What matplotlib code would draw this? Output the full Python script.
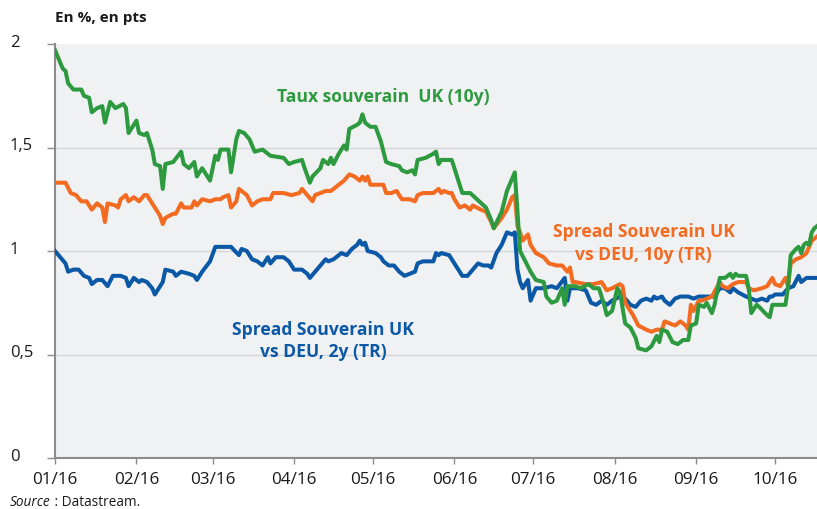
import numpy as np
import matplotlib
matplotlib.use("Agg")
import matplotlib.pyplot as plt

plt.rcParams['font.family'] = ['Open Sans', 'DejaVu Sans']

# jours depuis le 01/01/2016, valeurs en %
jours_taux = [0, 3, 4, 5, 7, 10, 11, 13, 14, 16, 18, 19, 21, 23, 26, 27, 28, 31, 32, 34,
              35, 37, 38, 40, 41, 42, 45, 48, 49, 51, 53, 54, 56, 59, 61, 62, 63, 66, 67, 69,
              70, 72, 74, 76, 79, 82, 87, 89, 91, 94, 95, 97, 98, 101, 102, 104, 105, 106, 108, 110,
              111, 112, 115, 116, 117, 118, 120, 122, 124, 126, 128, 131, 132, 134, 136, 137, 138, 141, 144, 145,
              146, 147, 151, 153, 155, 158, 164, 166, 167, 170, 172, 175, 176, 177, 179, 181, 183, 186, 187, 189,
              191, 193, 194, 195, 198, 200, 203, 205, 207, 209, 210, 212, 214, 215, 217, 219, 221, 222, 225, 227,
              229, 230, 231, 233, 235, 237, 239, 241, 242, 244, 245, 247, 248, 250, 251, 253, 255, 257, 258, 259,
              260, 263, 264, 265, 267, 268, 271, 272, 273, 274, 276, 278, 279, 280, 282, 283, 284, 285, 286, 287,
              288, 289, 290]
taux_uk_10y = [1.97, 1.88, 1.87, 1.81, 1.78, 1.78, 1.75, 1.74, 1.67, 1.69, 1.70, 1.62, 1.72, 1.69, 1.71, 1.69, 1.57, 1.63, 1.57, 1.56,
               1.57, 1.49, 1.42, 1.41, 1.30, 1.42, 1.43, 1.48, 1.42, 1.40, 1.43, 1.36, 1.40, 1.34, 1.46, 1.44, 1.49, 1.49, 1.38, 1.54,
               1.58, 1.57, 1.54, 1.48, 1.49, 1.46, 1.45, 1.42, 1.43, 1.44, 1.40, 1.33, 1.36, 1.40, 1.44, 1.42, 1.45, 1.42, 1.47, 1.51,
               1.49, 1.59, 1.61, 1.62, 1.66, 1.62, 1.60, 1.60, 1.53, 1.43, 1.42, 1.41, 1.39, 1.38, 1.39, 1.37, 1.44, 1.45, 1.47, 1.48,
               1.42, 1.44, 1.44, 1.36, 1.28, 1.28, 1.21, 1.15, 1.11, 1.19, 1.29, 1.38, 1.19, 1.00, 0.95, 0.90, 0.86, 0.85, 0.78, 0.75,
               0.76, 0.82, 0.74, 0.83, 0.83, 0.82, 0.84, 0.82, 0.82, 0.74, 0.69, 0.71, 0.82, 0.80, 0.65, 0.63, 0.58, 0.53, 0.52, 0.54,
               0.59, 0.56, 0.62, 0.61, 0.56, 0.55, 0.57, 0.57, 0.64, 0.65, 0.74, 0.73, 0.75, 0.70, 0.74, 0.87, 0.87, 0.89, 0.87, 0.89,
               0.88, 0.88, 0.82, 0.70, 0.74, 0.73, 0.69, 0.68, 0.74, 0.74, 0.74, 0.74, 0.83, 0.98, 1.01, 1.02, 0.99, 1.03, 1.04, 1.03,
               1.09, 1.11, 1.12]

jours_spread_10y = [0, 4, 6, 8, 10, 12, 13, 14, 16, 18, 19, 20, 23, 24, 25, 27, 28, 30, 32, 34,
                    35, 37, 39, 40, 41, 42, 45, 46, 48, 49, 52, 53, 54, 56, 59, 61, 63, 64, 66, 67,
                    69, 70, 72, 73, 75, 77, 79, 82, 83, 87, 90, 93, 94, 96, 98, 99, 103, 105, 107, 110,
                    112, 114, 116, 117, 118, 119, 120, 122, 124, 125, 126, 128, 130, 132, 135, 137, 138, 140, 144, 146,
                    147, 148, 150, 151, 152, 154, 156, 158, 159, 162, 164, 166, 167, 170, 172, 174, 175, 176, 177, 178,
                    180, 181, 183, 186, 188, 191, 193, 195, 196, 197, 198, 202, 205, 208, 210, 212, 215, 216, 217, 220,
                    222, 225, 227, 229, 231, 232, 234, 236, 238, 240, 241, 242, 243, 245, 246, 248, 250, 253, 254, 256,
                    258, 260, 263, 264, 266, 269, 271, 273, 274, 276, 278, 279, 280, 282, 284, 286, 287, 288, 290]
spread_uk_deu_10y = [1.33, 1.33, 1.28, 1.27, 1.24, 1.24, 1.22, 1.20, 1.23, 1.21, 1.14, 1.23, 1.22, 1.21, 1.25, 1.27, 1.24, 1.26, 1.24, 1.27,
                     1.27, 1.23, 1.19, 1.17, 1.13, 1.16, 1.18, 1.18, 1.23, 1.21, 1.21, 1.24, 1.22, 1.25, 1.24, 1.25, 1.25, 1.26, 1.27, 1.21,
                     1.24, 1.30, 1.28, 1.27, 1.22, 1.24, 1.25, 1.25, 1.28, 1.28, 1.27, 1.28, 1.30, 1.27, 1.24, 1.27, 1.29, 1.29, 1.31, 1.34,
                     1.37, 1.36, 1.34, 1.36, 1.34, 1.36, 1.32, 1.32, 1.32, 1.32, 1.28, 1.28, 1.29, 1.25, 1.25, 1.24, 1.27, 1.28, 1.28, 1.30,
                     1.28, 1.29, 1.28, 1.28, 1.25, 1.21, 1.22, 1.20, 1.22, 1.20, 1.19, 1.14, 1.11, 1.16, 1.20, 1.26, 1.27, 1.12, 1.09, 1.05,
                     1.08, 1.03, 0.99, 0.97, 0.94, 0.93, 0.93, 0.90, 0.92, 0.85, 0.85, 0.84, 0.84, 0.85, 0.81, 0.82, 0.84, 0.83, 0.75, 0.69,
                     0.64, 0.62, 0.61, 0.62, 0.62, 0.66, 0.65, 0.64, 0.66, 0.64, 0.62, 0.74, 0.71, 0.76, 0.76, 0.77, 0.78, 0.85, 0.83, 0.82,
                     0.84, 0.85, 0.85, 0.82, 0.81, 0.82, 0.83, 0.87, 0.84, 0.83, 0.87, 0.83, 0.94, 0.96, 0.97, 0.99, 1.02, 1.05, 1.07]

jours_spread_2y = [0, 2, 4, 5, 7, 9, 11, 13, 14, 16, 18, 20, 22, 23, 25, 27, 28, 30, 32, 33,
                   35, 37, 38, 40, 41, 42, 45, 46, 48, 51, 53, 54, 56, 59, 61, 67, 70, 71, 73, 75,
                   77, 79, 81, 82, 84, 87, 89, 91, 94, 96, 97, 99, 101, 103, 104, 106, 109, 111, 113, 115,
                   116, 117, 118, 119, 122, 124, 125, 127, 129, 131, 133, 135, 137, 138, 140, 143, 144, 145, 146, 147,
                   150, 151, 153, 155, 157, 159, 161, 163, 165, 166, 168, 170, 172, 174, 175, 176, 177, 178, 180, 181,
                   183, 186, 189, 191, 194, 195, 196, 199, 202, 204, 206, 208, 210, 212, 215, 217, 219, 221, 223, 225,
                   227, 228, 229, 231, 232, 234, 236, 238, 241, 243, 245, 248, 251, 253, 255, 257, 258, 260, 263, 265,
                   267, 269, 271, 272, 273, 274, 277, 279, 281, 283, 284, 286, 288, 290]
spread_uk_deu_2y = [1.00, 0.97, 0.94, 0.90, 0.91, 0.91, 0.88, 0.87, 0.84, 0.86, 0.86, 0.83, 0.88, 0.88, 0.88, 0.87, 0.83, 0.87, 0.85, 0.86,
                    0.85, 0.82, 0.79, 0.83, 0.85, 0.91, 0.90, 0.88, 0.90, 0.89, 0.88, 0.86, 0.90, 0.95, 1.02, 1.02, 0.98, 1.01, 1.00, 0.96,
                    0.95, 0.93, 0.97, 0.94, 0.97, 0.97, 0.95, 0.91, 0.91, 0.89, 0.87, 0.90, 0.93, 0.96, 0.95, 0.96, 0.99, 0.98, 1.01, 1.03,
                    1.05, 1.03, 1.04, 1.00, 0.99, 0.97, 0.95, 0.93, 0.93, 0.90, 0.88, 0.89, 0.90, 0.94, 0.95, 0.95, 0.95, 0.99, 0.98, 0.99,
                    0.98, 0.96, 0.92, 0.88, 0.88, 0.91, 0.94, 0.93, 0.93, 0.92, 0.99, 1.03, 1.09, 1.08, 1.09, 0.91, 0.85, 0.82, 0.86, 0.76,
                    0.82, 0.82, 0.83, 0.82, 0.87, 0.76, 0.82, 0.82, 0.81, 0.75, 0.74, 0.76, 0.74, 0.76, 0.78, 0.77, 0.74, 0.73, 0.76, 0.77,
                    0.76, 0.78, 0.77, 0.78, 0.76, 0.74, 0.77, 0.78, 0.78, 0.77, 0.78, 0.78, 0.78, 0.82, 0.82, 0.80, 0.82, 0.80, 0.78, 0.77,
                    0.76, 0.77, 0.76, 0.78, 0.78, 0.79, 0.79, 0.82, 0.83, 0.88, 0.85, 0.87, 0.87, 0.87]

mois = ['01/16', '02/16', '03/16', '04/16', '05/16', '06/16', '07/16', '08/16', '09/16', '10/16']
y_ticks = [0, 0.5, 1, 1.5, 2]
y_labels = ['0', '0,5', '1', '1,5', '2']

vert = '#2e9a3f'
orange = '#f26b21'
bleu = '#0b58a6'
gris_fond = '#f0f1f3'
gris_axe = '#8c8c8c'
texte = '#1a1a1a'

debut = np.datetime64('2016-01-01')

def to_dates(jours):
    return debut + np.array(jours, dtype='timedelta64[D]')

fig = plt.figure(figsize=(8.17, 5.10), dpi=100)
ax = fig.add_axes([55 / 817, 51 / 510, 762 / 817, 414 / 510])
ax.set_facecolor(gris_fond)

ax.plot(to_dates(jours_spread_2y), spread_uk_deu_2y, color=bleu, lw=2.9, solid_joinstyle='round', zorder=3)
ax.plot(to_dates(jours_spread_10y), spread_uk_deu_10y, color=orange, lw=2.9, solid_joinstyle='round', zorder=4)
ax.plot(to_dates(jours_taux), taux_uk_10y, color=vert, lw=2.9, solid_joinstyle='round', zorder=5)

ax.set_ylim(0, 2)
ax.set_xlim(debut, debut + np.timedelta64(290, 'D'))

for v in [0.5, 1, 1.5]:
    ax.axhline(v, color='#d6d7da', lw=1, zorder=1)

# labels de l'axe y alignés à gauche, comme dans l'original
ax.set_yticks(y_ticks)
ax.set_yticklabels([])
for v, lab in zip(y_ticks, y_labels):
    ax.annotate(lab, xy=(0, v), xycoords=('figure fraction', 'data'),
                xytext=(10, 2), textcoords='offset pixels',
                ha='left', va='center', fontsize=12, color=texte, annotation_clip=False)

ticks = np.array(['2016-%02d-01' % (k + 1) for k in range(len(mois))], dtype='datetime64[D]')
ax.set_xticks(ticks)
ax.set_xticklabels(mois, fontsize=12.3, color=texte)

ax.tick_params(axis='y', length=6, width=1, color=gris_axe, direction='out')
ax.tick_params(axis='x', length=4.5, width=1, color=gris_axe, direction='out', pad=5)

for s in ['top', 'right']:
    ax.spines[s].set_visible(False)
for s in ['left', 'bottom']:
    ax.spines[s].set_color(gris_axe)
    ax.spines[s].set_linewidth(1.5)

fig.text(55 / 817, 1 - 18 / 510, 'En %, en pts', fontsize=11, fontweight='bold',
         ha='left', va='center', color=texte)

ax.text(debut + np.timedelta64(125, 'D'), 1.75, 'Taux souverain  UK (10y)', color=vert,
        fontsize=12.6, fontweight='bold', ha='center', va='center')
ax.text(debut + np.timedelta64(224, 'D'), 1.04, 'Spread Souverain UK\nvs DEU, 10y (TR)', color=orange,
        fontsize=12.6, fontweight='bold', ha='center', va='center', linespacing=1.35)
ax.text(debut + np.timedelta64(102, 'D'), 0.57, 'Spread Souverain UK\nvs DEU, 2y (TR)', color=bleu,
        fontsize=12.6, fontweight='bold', ha='center', va='center', linespacing=1.35)

t1 = fig.text(10 / 817, 1 - 503 / 510, 'Source', fontsize=9.8, style='italic',
              ha='left', va='center', color=texte)
ax.annotate(' : Datastream.', xy=(1, 0.5), xycoords=t1, ha='left', va='center',
            fontsize=9.8, color=texte)

fig.savefig('out.png', dpi=100)
